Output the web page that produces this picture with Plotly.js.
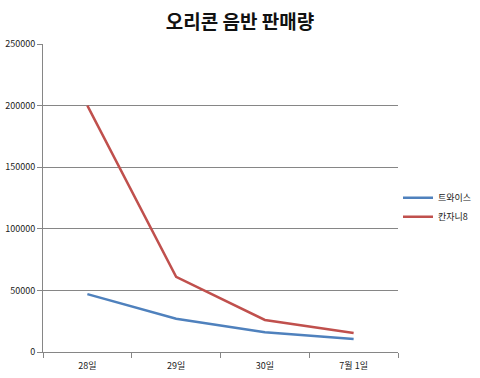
<!DOCTYPE html>
<html><head><meta charset="utf-8">
<script src="https://cdn.plot.ly/plotly-3.0.1.min.js"></script>
<style>body{margin:0;background:#fff}#c{width:480px;height:378px}</style>
</head><body><div id="c"></div>
<script>
const categories = ["28일", "29일", "30일", "7월 1일"];
const twiceSales = [47000, 27000, 16000, 10500];
const kanjani8Sales = [200000, 61000, 26000, 15400];
const seriesNames = ["트와이스", "칸자니8"];
const yTicks = [0, 50000, 100000, 150000, 200000, 250000];

const font = "'Noto Sans CJK KR', 'Noto Sans', sans-serif";
const traces = [
  {x: categories, y: twiceSales, name: seriesNames[0], type: "scatter", mode: "lines",
   line: {color: "#4F81BD", width: 2.5}},
  {x: categories, y: kanjani8Sales, name: seriesNames[1], type: "scatter", mode: "lines",
   line: {color: "#C0504D", width: 2.5}}
];
const layout = {
  width: 480, height: 378,
  margin: {l: 43, r: 82, t: 44, b: 26, autoexpand: false},
  paper_bgcolor: "#fff", plot_bgcolor: "#fff",
  font: {family: font, size: 9, color: "#222"},
  title: {text: "오리콘 음반 판매량", font: {family: font, size: 19, color: "#111", weight: "bold"},
          x: 0.5, xanchor: "center", y: 0.94, yanchor: "middle"},
  showlegend: true,
  legend: {x: 1.0, y: 0.47, xanchor: "left", yanchor: "middle", font: {family: font, size: 9, color: "#222"},
           tracegroupgap: 2, itemwidth: 30},
  xaxis: {type: "category", range: [-0.5, 3.5], showgrid: false, showline: true, linecolor: "#868686",
          ticks: "outside", tickson: "boundaries", ticklen: 5, tickcolor: "#868686", tickfont: {size: 9},
          ticklabelstandoff: 5, fixedrange: true},
  yaxis: {range: [0, 250000], tickvals: yTicks, tickformat: "d", showgrid: true, gridcolor: "#868686",
          gridwidth: 1, showline: true, linecolor: "#868686", ticks: "outside", ticklen: 5,
          tickcolor: "#868686", tickfont: {size: 9}, zeroline: false, fixedrange: true}
};
Plotly.newPlot("c", traces, layout, {displayModeBar: false, staticPlot: true});
</script></body></html>
